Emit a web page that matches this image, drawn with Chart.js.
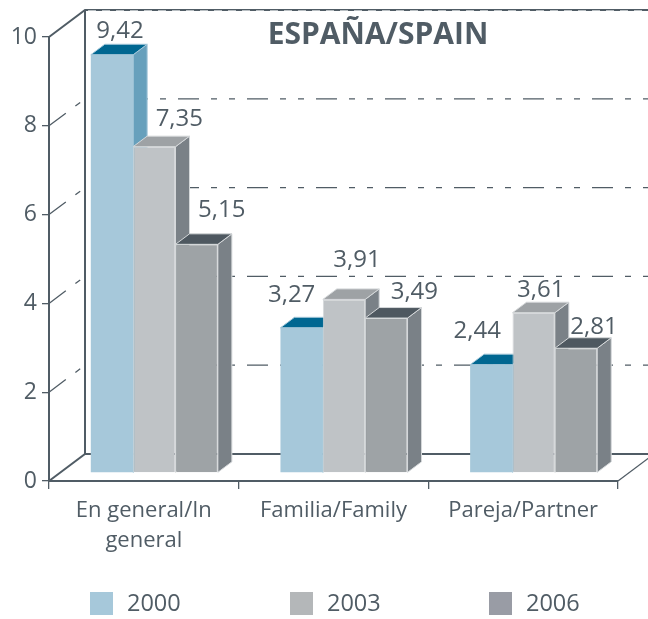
<!DOCTYPE html>
<html>
<head>
<meta charset="utf-8">
<title>España/Spain</title>
<script src="https://cdn.jsdelivr.net/npm/chart.js@4"></script>
<style>
  html, body { margin: 0; padding: 0; background: #fff; }
  canvas { display: block; }
</style>
</head>
<body>
<canvas id="spainChart" width="648" height="619"></canvas>
<script>
// Data
var categories = [["En general/In", "general"], "Familia/Family", "Pareja/Partner"];
var years = ["2000", "2003", "2006"];
var values2000 = [9.42, 3.27, 2.44];
var values2003 = [7.35, 3.91, 3.61];
var values2006 = [5.15, 3.49, 2.81];
var yTicks = [0, 2, 4, 6, 8, 10];
var chartTitle = "ESPAÑA/SPAIN";

var textColor = "#505c65";
var axisColor = "#505c65";
var fontName = "'Open Sans', 'Noto Sans', sans-serif";

// Colours for front, top and side of each series
var faces = [
  { front: "#a6c8da", top: "#006791", side: "#67a0bc", edge: "#a6c8da", legend: "#a6c8da" },
  { front: "#bfc3c6", top: "#9ea2a5", side: "#7a8187", edge: "#d5d8da", legend: "#b4b7b9" },
  { front: "#9ea3a6", top: "#4e5860", side: "#7a8187", edge: "#d5d8da", legend: "#999ca5" },
];

// Depth of the floor and of the bars, and where bars sit on the floor
var wall = { dx: 36, dy: 27 };
var barDepth = { dx: 14, dy: 10.5 };
var barShift = { dx: 10.5, dy: 8 };

// Manual label nudges relative to the top centre of each front face, by series then category
var labelNudge = [
  [[8, -17], [-10, -26], [-14, -27]],
  [[25, -21], [13, -32], [7, -16]],
  [[25, -27], [28, -19], [18, -14]],
];
var legendX = [90, 290, 489];

function poly(ctx, pts, fill, stroke) {
  ctx.beginPath();
  ctx.moveTo(pts[0][0], pts[0][1]);
  for (var i = 1; i < pts.length; i++) ctx.lineTo(pts[i][0], pts[i][1]);
  ctx.closePath();
  ctx.fillStyle = fill;
  ctx.fill();
  ctx.strokeStyle = stroke;
  ctx.lineWidth = 1;
  ctx.stroke();
}

function line(ctx, pts, width, color, dash) {
  ctx.save();
  ctx.beginPath();
  ctx.moveTo(pts[0][0], pts[0][1]);
  for (var i = 1; i < pts.length; i++) ctx.lineTo(pts[i][0], pts[i][1]);
  ctx.lineWidth = width;
  ctx.strokeStyle = color;
  ctx.setLineDash(dash || []);
  ctx.stroke();
  ctx.restore();
}

var box3d = {
  id: "box3d",
  // Walls behind the bars, then side and top faces; the library draws the fronts after this
  beforeDatasetsDraw: function (chart) {
    var ctx = chart.ctx;
    var a = chart.chartArea;
    var y = chart.scales.y;
    var backLeft = a.left + wall.dx;
    var backRight = a.right + wall.dx;

    yTicks.forEach(function (t) {
      var py = y.getPixelForValue(t);
      if (t === 0 || t === 10) return;
      line(ctx, [[a.left, py], [backLeft, py - wall.dy], [backRight, py - wall.dy]], 1.3, axisColor, [21, 12, 6, 12, 6, 12]);
    });

    var topY = y.getPixelForValue(10) - wall.dy;
    var floorY = y.getPixelForValue(0) - wall.dy;
    line(ctx, [[a.left, y.getPixelForValue(10)], [backLeft, topY], [backRight, topY]], 2, axisColor);
    line(ctx, [[backLeft + 3, topY + 0.5], [backRight, topY + 0.5]], 1, "#b9bfc3", [8, 6]);
    line(ctx, [[backLeft, topY], [backLeft, floorY]], 2, axisColor);
    line(ctx, [[a.left, y.getPixelForValue(0)], [backLeft, floorY], [backRight, floorY]], 2, axisColor);
    line(ctx, [[a.right, y.getPixelForValue(0)], [backRight, floorY]], 1.3, axisColor);

    ctx.save();
    ctx.translate(barShift.dx, -barShift.dy);
    var dx = barDepth.dx, dy = barDepth.dy;
    chart.data.datasets.forEach(function (ds, i) {
      var f = faces[i];
      chart.getDatasetMeta(i).data.forEach(function (bar) {
        var l = bar.x - bar.width / 2, r = bar.x + bar.width / 2;
        poly(ctx, [[r, bar.y], [r + dx, bar.y - dy], [r + dx, bar.base - dy], [r, bar.base]], f.side, f.edge);
        poly(ctx, [[l, bar.y], [l + dx, bar.y - dy], [r + dx, bar.y - dy], [r, bar.y]], f.top, f.edge);
      });
    });
  },
  afterDatasetsDraw: function (chart) {
    var ctx = chart.ctx;
    ctx.restore();

    // Value labels
    ctx.save();
    ctx.font = "24px " + fontName;
    ctx.fillStyle = textColor;
    ctx.textAlign = "center";
    ctx.textBaseline = "alphabetic";
    chart.data.datasets.forEach(function (ds, i) {
      chart.getDatasetMeta(i).data.forEach(function (bar, j) {
        var n = labelNudge[i][j];
        ctx.fillText(ds.data[j].toFixed(2).replace(".", ","), bar.x + barShift.dx + n[0], bar.y - barShift.dy + n[1]);
      });
    });

    // Title
    ctx.font = "bold 30px " + fontName;
    ctx.fillText(chartTitle, 378, 44);

    // Legend
    ctx.font = "23.5px " + fontName;
    ctx.textAlign = "left";
    ctx.textBaseline = "middle";
    years.forEach(function (year, i) {
      ctx.fillStyle = faces[i].legend;
      ctx.fillRect(legendX[i], 592, 23, 23);
      ctx.fillStyle = textColor;
      ctx.fillText(year, legendX[i] + 37, 604);
    });
    ctx.restore();
  },
};

function seriesData(i, data) {
  return {
    label: years[i],
    data: data,
    clip: false,
    backgroundColor: faces[i].front,
    borderColor: faces[i].edge,
    borderWidth: i === 0 ? 0 : 1,
    barPercentage: 1,
    categoryPercentage: 0.67,
  };
}

new Chart(document.getElementById("spainChart").getContext("2d"), {
  type: "bar",
  data: {
    labels: categories,
    datasets: [seriesData(0, values2000), seriesData(1, values2003), seriesData(2, values2006)],
  },
  options: {
    responsive: false,
    animation: false,
    layout: { padding: { left: 0, right: 30, top: 37, bottom: 0 } },
    plugins: {
      legend: { display: false },
      title: { display: false },
      tooltip: { enabled: false },
    },
    scales: {
      x: {
        afterFit: function (scale) { scale.height = 138; },
        grid: { drawOnChartArea: false, color: axisColor, tickLength: 8, lineWidth: 1.3 },
        border: { color: axisColor, width: 2 },
        ticks: { color: textColor, font: { family: fontName, size: 22, lineHeight: 1.4 }, maxRotation: 0, autoSkip: false, padding: 6 },
      },
      y: {
        min: 0,
        max: 10,
        afterFit: function (scale) { scale.width = 49; },
        afterBuildTicks: function (scale) { scale.ticks = yTicks.map(function (v) { return { value: v }; }); },
        grid: { drawOnChartArea: false, color: axisColor, tickLength: 7, lineWidth: 1.3 },
        border: { color: axisColor, width: 2 },
        ticks: { color: textColor, font: { family: fontName, size: 23 }, padding: 5 },
      },
    },
  },
  plugins: [box3d],
});
</script>
</body>
</html>
